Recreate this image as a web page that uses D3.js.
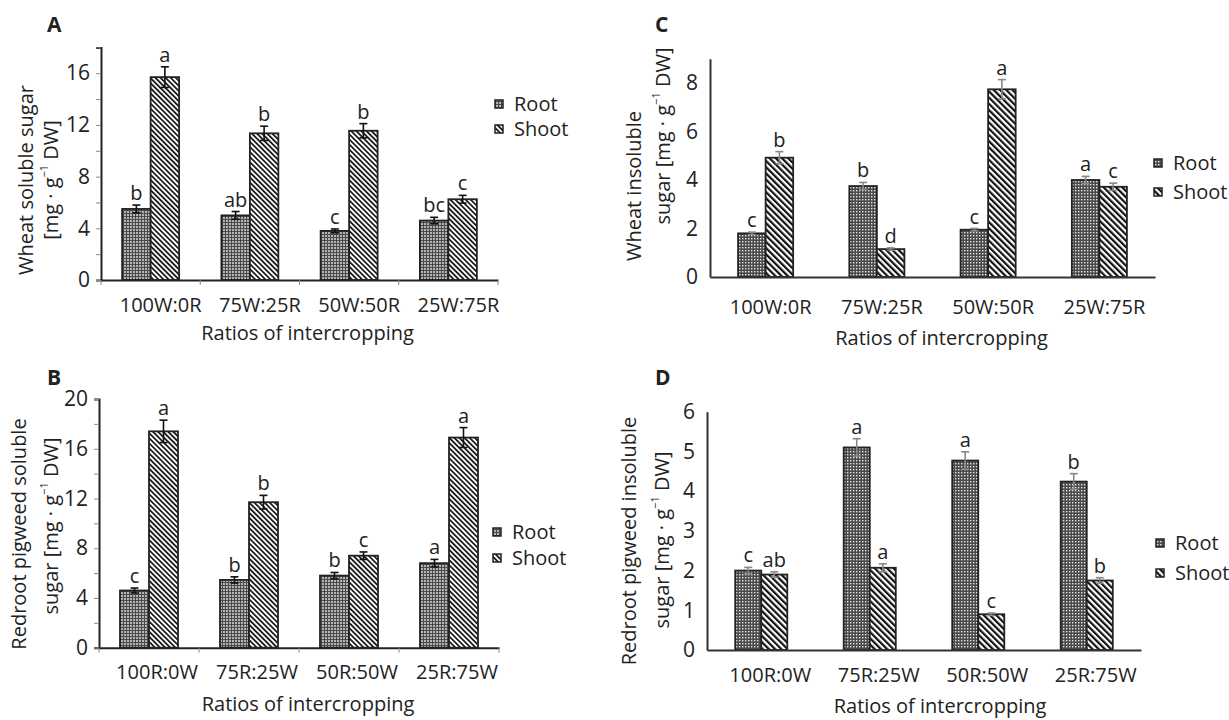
<!DOCTYPE html>
<html>
<head>
<meta charset="utf-8">
<script src="https://cdn.jsdelivr.net/npm/d3@7"></script>
<style>
  body { margin: 0; background: #fff; }
  svg { font-family: "Open Sans", sans-serif; }
</style>
</head>
<body>
<div class="chart"></div>
<script>
var w = 1229,
    h = 720;

// categories
var ratiosW = ["100W:0R", "75W:25R", "50W:50R", "25W:75R"];
var ratiosR = ["100R:0W", "75R:25W", "50R:50W", "25R:75W"];
var seriesNames = ["Root", "Shoot"];

// A - wheat soluble sugar
var aRoot = [5.5, 5.0, 3.8, 4.6],
    aRootErr = [0.3, 0.3, 0.15, 0.25],
    aRootLet = ["b", "ab", "c", "bc"],
    aShoot = [15.7, 11.35, 11.55, 6.25],
    aShootErr = [0.8, 0.55, 0.55, 0.3],
    aShootLet = ["a", "b", "b", "c"];

// B - redroot pigweed soluble sugar
var bRoot = [4.6, 5.45, 5.8, 6.8],
    bRootErr = [0.2, 0.25, 0.25, 0.3],
    bRootLet = ["c", "b", "b", "a"],
    bShoot = [17.4, 11.7, 7.4, 16.9],
    bShootErr = [0.9, 0.55, 0.3, 0.8],
    bShootLet = ["a", "b", "c", "a"];

// C - wheat insoluble sugar
var cRoot = [1.8, 3.75, 1.95, 4.0],
    cRootErr = [0.05, 0.15, 0.05, 0.15],
    cRootLet = ["c", "b", "c", "a"],
    cShoot = [4.92, 1.15, 7.74, 3.72],
    cShootErr = [0.25, 0.05, 0.4, 0.15],
    cShootLet = ["b", "d", "a", "c"];

// D - redroot pigweed insoluble sugar
var dRoot = [2.0, 5.1, 4.77, 4.24],
    dRootErr = [0.08, 0.22, 0.22, 0.2],
    dRootLet = ["c", "a", "a", "b"],
    dShoot = [1.9, 2.07, 0.9, 1.75],
    dShootErr = [0.07, 0.1, 0.03, 0.07],
    dShootLet = ["ab", "a", "c", "b"];

var ticksA = [0, 4, 8, 12, 16],
    ticksB = [0, 4, 8, 12, 16, 20],
    ticksC = [0, 2, 4, 6, 8],
    ticksD = [0, 1, 2, 3, 4, 5, 6];

var fs = 20;

var svg = d3.select("body").select(".chart").append("svg")
  .attr("width", w)
  .attr("height", h);

var defs = svg.append("defs");

// root fill, soluble panels: fine grey grid
var p1 = defs.append("pattern").attr("id", "rootGrid")
  .attr("patternUnits", "userSpaceOnUse").attr("width", 3).attr("height", 3);
p1.append("rect").attr("width", 3).attr("height", 3).attr("fill", "#b4b4b4");
p1.append("rect").attr("width", 1).attr("height", 3).attr("fill", "#4a4a4a");
p1.append("rect").attr("width", 3).attr("height", 1).attr("fill", "#4a4a4a");

// root fill, insoluble panels: grey with light dots
var p2 = defs.append("pattern").attr("id", "rootDots")
  .attr("patternUnits", "userSpaceOnUse").attr("width", 3).attr("height", 3);
p2.append("rect").attr("width", 3).attr("height", 3).attr("fill", "#4a4a4a");
p2.append("rect").attr("x", 1).attr("y", 1).attr("width", 1.4).attr("height", 1.4).attr("fill", "#e6e6e6");

function stripes(id, period, thick) {
  var p = defs.append("pattern").attr("id", id)
    .attr("patternUnits", "userSpaceOnUse")
    .attr("width", period).attr("height", period)
    .attr("patternTransform", "rotate(-45)");
  p.append("rect").attr("width", period).attr("height", period).attr("fill", "#fff");
  p.append("rect").attr("width", thick).attr("height", period).attr("fill", "#111");
}
stripes("shootFine", 3.6, 1.7);
stripes("shootBold", 4.4, 2.2);

function drawPanel(o) {
  var g = svg.append("g");

  var y = d3.scaleLinear().domain([0, o.max]).range([o.y0, o.yTop]);
  var x = d3.scaleBand().domain(o.cats).range([o.x0, o.x1])
    .paddingInner(o.pad).paddingOuter(o.pad / 2);
  var xs = d3.scaleBand().domain(seriesNames).range([0, x.bandwidth()]);

  var series = [
    {name: "Root", vals: o.root, err: o.rootErr, lets: o.rootLet, fill: o.rootFill},
    {name: "Shoot", vals: o.shoot, err: o.shootErr, lets: o.shootLet, fill: o.shootFill}
  ];

  series.forEach(function(s) {
    var items = o.cats.map(function(c, i) {
      return {cat: c, v: s.vals[i], e: s.err[i], l: s.lets[i]};
    });
    var gx = function(d) { return x(d.cat) + xs(s.name); };

    g.selectAll(null).data(items).enter().append("rect")
      .attr("x", gx)
      .attr("y", function(d) { return y(d.v); })
      .attr("width", xs.bandwidth())
      .attr("height", function(d) { return y(0) - y(d.v); })
      .attr("fill", "url(#" + s.fill + ")")
      .attr("stroke", "#222")
      .attr("stroke-width", 1.8);

    var eb = g.selectAll(null).data(items).enter().append("g")
      .attr("stroke", o.errColor).attr("stroke-width", 1.6);
    eb.append("line")
      .attr("x1", function(d) { return gx(d) + xs.bandwidth() / 2; })
      .attr("x2", function(d) { return gx(d) + xs.bandwidth() / 2; })
      .attr("y1", function(d) { return y(d.v - d.e); })
      .attr("y2", function(d) { return y(d.v + d.e); });
    [-1, 1].forEach(function(sg) {
      eb.append("line")
        .attr("x1", function(d) { return gx(d) + xs.bandwidth() / 2 - 4; })
        .attr("x2", function(d) { return gx(d) + xs.bandwidth() / 2 + 4; })
        .attr("y1", function(d) { return y(d.v + sg * d.e); })
        .attr("y2", function(d) { return y(d.v + sg * d.e); });
    });

    g.selectAll(null).data(items).enter().append("text")
      .attr("x", function(d) { return gx(d) + xs.bandwidth() / 2; })
      .attr("y", function(d) { return y(d.v + d.e) - 5; })
      .attr("text-anchor", "middle")
      .attr("font-size", fs)
      .attr("fill", "#222")
      .text(function(d) { return d.l; });
  });

  // y axis
  var ya = g.append("g").attr("transform", "translate(" + o.x0 + ",0)")
    .call(d3.axisLeft(y).tickValues(o.minor ? d3.range(0, o.max + 0.1, 2) : o.ticks)
      .tickSize(o.minor ? 5 : 0).tickPadding(o.minor ? 6 : 12)
      .tickFormat(function(d) { return o.ticks.indexOf(d) >= 0 ? d : ""; }));
  ya.select(".domain").attr("stroke", o.axisColor).attr("stroke-width", 2);
  ya.selectAll(".tick line").attr("stroke", "#888");
  ya.selectAll("text").attr("font-size", fs + 1).attr("fill", "#222")
    .attr("font-family", "Open Sans, sans-serif");

  // x axis
  var xa = g.append("g").attr("transform", "translate(0," + o.y0 + ")")
    .call(d3.axisBottom(x).tickSize(0).tickPadding(0));
  xa.select(".domain").attr("stroke", o.axisColor).attr("stroke-width", 2);
  xa.selectAll("text").attr("font-size", fs).attr("fill", "#222")
    .attr("font-family", "Open Sans, sans-serif")
    .attr("dy", null).attr("y", o.tickY - o.y0).attr("dx", o.labelDx);
  if (o.minor) {
    var step = (o.x1 - o.x0) / o.cats.length;
    g.selectAll(null).data(d3.range(o.cats.length + 1)).enter().append("line")
      .attr("x1", function(i) { return o.x0 + i * step; })
      .attr("x2", function(i) { return o.x0 + i * step; })
      .attr("y1", o.y0).attr("y2", o.y0 + 5)
      .attr("stroke", "#888").attr("stroke-width", 1);
  }

  g.append("text")
    .attr("x", (o.x0 + o.x1) / 2 + o.titleDx)
    .attr("y", o.titleY)
    .attr("text-anchor", "middle")
    .attr("font-size", fs).attr("fill", "#222")
    .text("Ratios of intercropping");

  // y title, two lines
  g.append("text")
    .attr("transform", "translate(" + o.yt1[0] + "," + o.yt1[1] + ") rotate(-90)")
    .attr("text-anchor", "middle").attr("dy", "0.35em")
    .attr("font-size", fs).attr("fill", "#222")
    .text(o.yTitle1);
  var t2 = g.append("text")
    .attr("transform", "translate(" + o.yt2[0] + "," + o.yt2[1] + ") rotate(-90)")
    .attr("text-anchor", "middle").attr("dy", "0.35em")
    .attr("font-size", fs).attr("fill", "#222");
  t2.append("tspan").text(o.yTitle2 + "[mg \u00b7 g");
  t2.append("tspan").attr("font-size", 11).attr("dy", "-0.9em").text("\u22121");
  t2.append("tspan").attr("dy", "0.5em").text(" DW]");

  // panel letter
  g.append("text")
    .attr("x", o.letter[1]).attr("y", o.letter[2])
    .attr("font-size", 21).attr("font-weight", "bold").attr("fill", "#222")
    .text(o.letter[0]);

  // legend
  var lg = g.selectAll(null).data(series).enter().append("g")
    .attr("transform", function(d, i) {
      return "translate(" + o.leg[0] + "," + (o.leg[1] + i * o.leg[2]) + ")";
    });
  lg.append("rect").attr("x", 0).attr("y", -4).attr("width", 8).attr("height", 8)
    .attr("fill", function(d) { return "url(#" + d.fill + ")"; })
    .attr("stroke", "#222").attr("stroke-width", 1.5);
  lg.append("text").attr("x", 19).attr("dy", "0.35em")
    .attr("font-size", fs).attr("fill", "#222")
    .text(function(d) { return d.name; });
}

drawPanel({
  cats: ratiosW, root: aRoot, rootErr: aRootErr, rootLet: aRootLet,
  shoot: aShoot, shootErr: aShootErr, shootLet: aShootLet,
  rootFill: "rootGrid", shootFill: "shootFine", errColor: "#111", axisColor: "#222",
  max: 18, ticks: ticksA, minor: true,
  x0: 101, x1: 498, y0: 280, yTop: 47.4, pad: 0.426,
  tickY: 312, labelDx: 10, titleY: 340, titleDx: 8,
  yTitle1: "Wheat soluble sugar", yTitle2: "", yt1: [26, 180], yt2: [51, 180],
  letter: ["A", 47, 32], leg: [495, 104, 25]
});

drawPanel({
  cats: ratiosR, root: bRoot, rootErr: bRootErr, rootLet: bRootLet,
  shoot: bShoot, shootErr: bShootErr, shootLet: bShootLet,
  rootFill: "rootGrid", shootFill: "shootFine", errColor: "#111", axisColor: "#222",
  max: 20, ticks: ticksB, minor: true,
  x0: 99, x1: 499, y0: 647.7, yTop: 399, pad: 0.42,
  tickY: 679, labelDx: 8, titleY: 711, titleDx: 9,
  yTitle1: "Redroot pigweed soluble", yTitle2: "sugar ", yt1: [19, 534], yt2: [51, 526],
  letter: ["B", 47, 385], leg: [493, 532, 26]
});

drawPanel({
  cats: ratiosW, root: cRoot, rootErr: cRootErr, rootLet: cRootLet,
  shoot: cShoot, shootErr: cShootErr, shootLet: cShootLet,
  rootFill: "rootDots", shootFill: "shootBold", errColor: "#888", axisColor: "#333",
  max: 9, ticks: ticksC, minor: false,
  x0: 710, x1: 1155, y0: 277, yTop: 58.75, pad: 0.505,
  tickY: 314, labelDx: 5, titleY: 345, titleDx: 9,
  yTitle1: "Wheat insoluble", yTitle2: "sugar ", yt1: [634, 186], yt2: [663, 136],
  letter: ["C", 655, 32], leg: [1154, 163, 29]
});

drawPanel({
  cats: ratiosR, root: dRoot, rootErr: dRootErr, rootLet: dRootLet,
  shoot: dShoot, shootErr: dShootErr, shootLet: dShootLet,
  rootFill: "rootDots", shootFill: "shootBold", errColor: "#888", axisColor: "#333",
  max: 6, ticks: ticksD, minor: false,
  x0: 707, x1: 1141, y0: 650, yTop: 411.7, pad: 0.52,
  tickY: 682, labelDx: 9, titleY: 713, titleDx: 16,
  yTitle1: "Redroot pigweed insoluble", yTitle2: "sugar ", yt1: [629, 541], yt2: [662, 540],
  letter: ["D", 655, 385], leg: [1156, 543, 30]
});
</script>
</body>
</html>
